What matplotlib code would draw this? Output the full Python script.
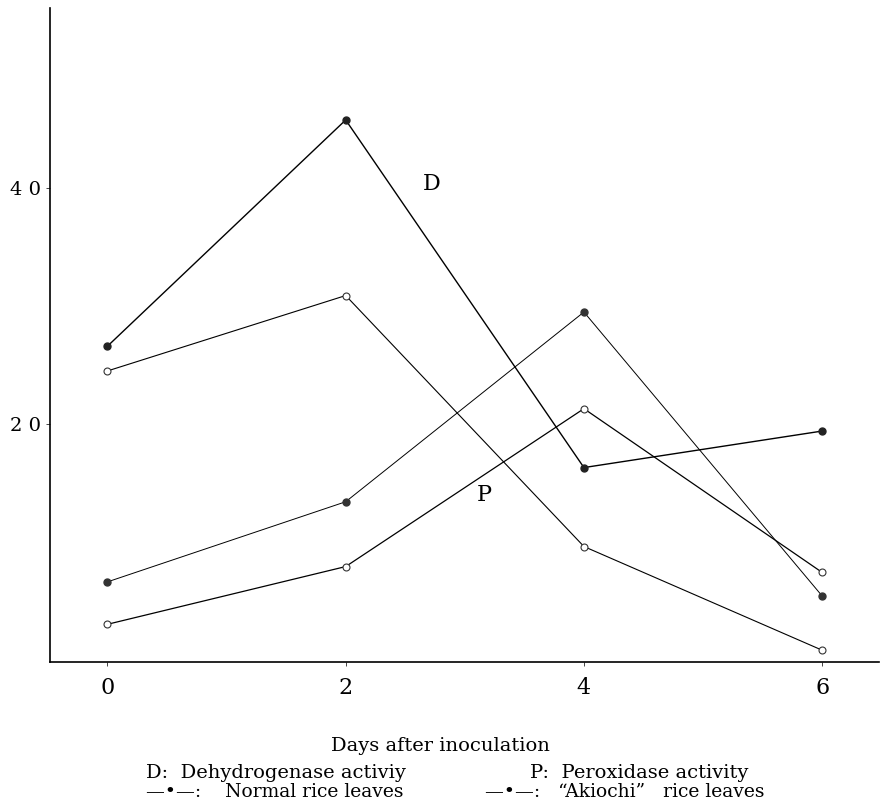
import matplotlib.pyplot as plt

plt.rcParams['font.family'] = ['DejaVu Serif', 'Liberation Serif']

days = [0, 2, 4, 6]
d_akiochi = [26.6, 45.8, 16.3, 19.4]
d_normal = [24.5, 30.9, 9.6, 0.8]
p_akiochi = [6.6, 13.4, 29.5, 5.4]
p_normal = [3.0, 7.9, 21.3, 7.4]

fig = plt.figure(figsize=(8.82, 8.02), dpi=100)
ax = fig.add_axes([0.057, 0.175, 0.94, 0.815])

ax.plot(days, d_akiochi, color='black', lw=1.0, marker='o', ms=5,
        mfc='#222222', mec='#222222')
ax.plot(days, d_normal, color='black', lw=0.8, marker='o', ms=5,
        mfc='white', mec='#333333', mew=0.8)
ax.plot(days, p_akiochi, color='black', lw=0.7, marker='o', ms=5,
        mfc='#333333', mec='#333333')
ax.plot(days, p_normal, color='black', lw=0.9, marker='o', ms=5,
        mfc='white', mec='#333333', mew=0.8)

ax.text(2.72, 40.4, 'D', fontsize=16, ha='center', va='center')
ax.text(3.16, 14.0, 'P', fontsize=16, ha='center', va='center')

ax.set_xlim(-0.48, 6.48)
ax.set_ylim(-0.17, 55.3)
ax.set_xticks(days)
ax.set_xticklabels(['0', '2', '4', '6'], fontsize=16)
ax.set_yticks([20, 40])
ax.set_yticklabels(['2 0', '4 0'], fontsize=14)
ax.tick_params(axis='both', length=3, width=0.7, color='#444444')
ax.tick_params(axis='x', pad=8)
ax.tick_params(axis='y', pad=4)
for s in ['top', 'right']:
    ax.spines[s].set_visible(False)
ax.spines['left'].set_linewidth(1.2)
ax.spines['bottom'].set_linewidth(1.2)

fig.text(0.499, 0.070, 'Days after inoculation', fontsize=14,
         ha='center', va='center')
fig.text(0.165, 0.036, 'D:  Dehydrogenase activiy', fontsize=14, va='center')
fig.text(0.601, 0.036, 'P:  Peroxidase activity', fontsize=14, va='center')
fig.text(0.165, 0.013, '—•—:    Normal rice leaves', fontsize=13.5, va='center')
fig.text(0.550, 0.013, '—•—:   \u201cAkiochi\u201d   rice leaves', fontsize=13.5, va='center')

fig.savefig('out.png', dpi=100)
plt.close()
